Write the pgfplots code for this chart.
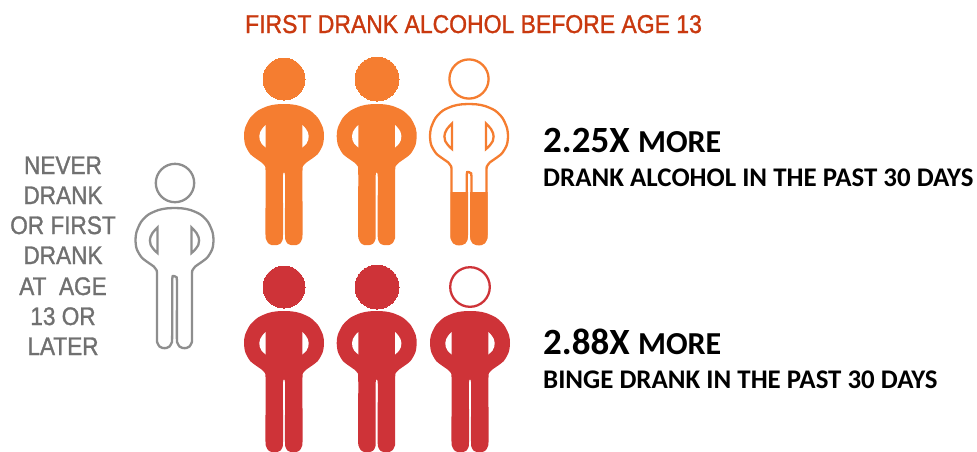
\documentclass[border=0pt]{standalone}
\usepackage{pgfplots}
\usepackage{pgfplotstable}
\usepackage{fontspec}
\pgfplotsset{compat=1.18}
\setmainfont{Liberation Sans}
\newfontfamily\headfont[FakeStretch=0.89,FakeBold=1.2]{Liberation Sans}
\newfontfamily\boldfont[BoldFont={Carlito Bold}]{Carlito}

\definecolor{drankorange}{HTML}{F57D30}
\definecolor{bingered}{HTML}{CE3338}
\definecolor{refgrey}{HTML}{8E8E8E}
\definecolor{greytext}{HTML}{707070}
\definecolor{titlered}{HTML}{C9390F}

% Body silhouette, offsets from the figure's centre line and shoulder top
\pgfplotstableread{
x y
0 0
8 0.4
16 2
26 6.5
34 14
39 24
40 32
38.8 41
33.8 50
26 56
22 58.8
19.5 61.5
18.5 66
18.5 100
18.5 131
18 135
16 139
12.5 141
7 141
3.5 139.5
1.5 136
1 131
1 100
1 71
-1 71
-1 100
-1 131
-1.5 136
-3.5 139.5
-7 141
-12.5 141
-16 139
-18 135
-18.5 131
-18.5 100
-18.5 66
-19.5 61.5
-22 58.8
-26 56
-33.8 50
-38.8 41
-40 32
-39 24
-34 14
-26 6.5
-16 2
-8 0.4
0 0
}\bodyfill

% Same silhouette for the outlined figures, with a wider gap between the legs
\pgfplotstableread{
x y
0 0
8 0.4
16 2
26 6.5
33.5 14
38 24
39 32
37.8 41
32.8 49.5
25 55.5
21 58.3
18.5 61.5
17.5 66
17.5 100
17.5 131
17 135
15 138.5
12 140
8 140
5 138.5
3 135
2.4 131
2.4 100
2.4 72
1.5 69
-1.2 68
-2.2 71
-2.2 100
-2.4 131
-3 135
-5 138.5
-8 140
-12 140
-15 138.5
-17 135
-17.5 131
-17.5 100
-17.5 66
-18.5 61.5
-21 58.3
-25 55.5
-32.8 49.5
-37.8 41
-39 32
-38 24
-33.5 14
-26 6.5
-16 2
-8 0.4
0 0
}\bodyline

% Gap under the arm (left side; the right one is its mirror image)
\pgfplotstableread{
x y
-18.3 21
-20 22.5
-22 25
-23.8 28
-24.7 32
-24.2 36
-22.5 39.5
-20.3 41.8
-18.3 43.5
}\armhole

\pgfplotstableread{
x y
-17 19.5
-19.5 22
-22 25
-24 29
-24.6 32.5
-23.8 37
-21.5 40.5
-19.3 43
-17 45
}\armline

% Lower legs of the partly filled figure
\pgfplotstableread{
x y
-18.5 88
-18.5 131
-18 135
-16 139
-12.5 141
-7 141
-3.5 139.5
-1.5 136
-1 131
-1 88
}\legfill

\newcommand{\solidbody}[3]{%
  \addplot[smooth,tension=0.45,fill=#3,draw=none] table[x expr=\thisrow{x}+#1,y expr=\thisrow{y}+#2]{\bodyfill};
  \addplot[fill=white,draw=none] table[x expr=\thisrow{x}+#1,y expr=\thisrow{y}+#2]{\armhole} -- cycle;
  \addplot[fill=white,draw=none] table[x expr=-\thisrow{x}+#1,y expr=\thisrow{y}+#2]{\armhole} -- cycle;
}
\newcommand{\outlinebody}[3]{%
  \addplot[smooth,tension=0.45,draw=#3,line width=2.3pt,fill=white] table[x expr=\thisrow{x}+#1,y expr=\thisrow{y}+#2]{\bodyline};
  \addplot[draw=#3,line width=2.3pt,line join=miter,fill=white] table[x expr=\thisrow{x}+#1,y expr=\thisrow{y}+#2]{\armline} -- cycle;
  \addplot[draw=#3,line width=2.3pt,line join=miter,fill=white] table[x expr=-\thisrow{x}+#1,y expr=\thisrow{y}+#2]{\armline} -- cycle;
}
\newcommand{\sidelabel}[2]{\node[anchor=base,text=greytext,font=\headfont\fontsize{25.4}{25.4}\selectfont] at (axis cs:63,#1) {#2};}

\begin{document}
\begin{tikzpicture}
\begin{axis}[
  at={(0,0)}, anchor=south west,
  width=977pt, height=451pt, scale only axis,
  xmin=0, xmax=977, ymin=0, ymax=451, y dir=reverse,
  hide axis,
]
% Reference figure
\outlinebody{174.5}{208}{refgrey}
\addplot[only marks,mark=*,mark size=19.2pt,mark options={draw=refgrey,fill=white,line width=2.3pt}] coordinates {(175,183)};

% First row: drank alcohol in the past 30 days (2.25 figures)
\solidbody{284}{104}{drankorange}
\solidbody{376.7}{104}{drankorange}
\outlinebody{469}{104}{drankorange}
\addplot[fill=drankorange,draw=none] table[x expr=\thisrow{x}+469,y expr=\thisrow{y}+104]{\legfill} -- cycle;
\addplot[fill=drankorange,draw=none] table[x expr=-\thisrow{x}+469,y expr=\thisrow{y}+104]{\legfill} -- cycle;
\addplot[only marks,mark=*,mark size=21pt,mark options={draw=drankorange,fill=drankorange,line width=0pt}] coordinates {(284,79)};
\addplot[only marks,mark=*,mark size=22pt,mark options={draw=drankorange,fill=drankorange,line width=0pt}] coordinates {(377,79)};
\addplot[only marks,mark=*,mark size=19.6pt,mark options={draw=drankorange,fill=white,line width=2.3pt}] coordinates {(469,79)};

% Second row: binge drank in the past 30 days (2.88 figures)
\solidbody{284}{311}{bingered}
\solidbody{376.7}{311}{bingered}
\solidbody{470}{311}{bingered}
\addplot[only marks,mark=*,mark size=21pt,mark options={draw=bingered,fill=bingered,line width=0pt}] coordinates {(284,287)};
\addplot[only marks,mark=*,mark size=22pt,mark options={draw=bingered,fill=bingered,line width=0pt}] coordinates {(377,287)};
\addplot[only marks,mark=*,mark size=19.8pt,mark options={draw=bingered,fill=white,line width=2.3pt}] coordinates {(470,287)};

% Text
\node[anchor=base,text=titlered,font=\headfont\fontsize{25.8}{25.8}\selectfont] at (axis cs:473.5,33) {FIRST DRANK ALCOHOL BEFORE AGE 13};
\sidelabel{174}{NEVER}
\sidelabel{204}{DRANK}
\sidelabel{234}{OR FIRST}
\sidelabel{264}{DRANK}
\sidelabel{295}{AT\ \ AGE}
\sidelabel{325}{13 OR}
\sidelabel{355}{LATER}
\node[anchor=base west,inner sep=0pt,font=\boldfont\bfseries\fontsize{37}{37}\selectfont] at (axis cs:543,152) {2.25X \fontsize{32}{32}\selectfont MORE};
\node[anchor=base west,inner sep=0pt,font=\boldfont\bfseries\fontsize{26.9}{26.9}\selectfont] at (axis cs:543,186) {DRANK ALCOHOL IN THE PAST 30 DAYS};
\node[anchor=base west,inner sep=0pt,font=\boldfont\bfseries\fontsize{37}{37}\selectfont] at (axis cs:543,354) {2.88X \fontsize{32}{32}\selectfont MORE};
\node[anchor=base west,inner sep=0pt,font=\boldfont\bfseries\fontsize{26.9}{26.9}\selectfont] at (axis cs:543,388) {BINGE DRANK IN THE PAST 30 DAYS};
\end{axis}
% The page is exactly the plotting area
\pgfresetboundingbox
\path[use as bounding box] (0,0) rectangle (977pt,451pt);
\end{tikzpicture}
\end{document}
